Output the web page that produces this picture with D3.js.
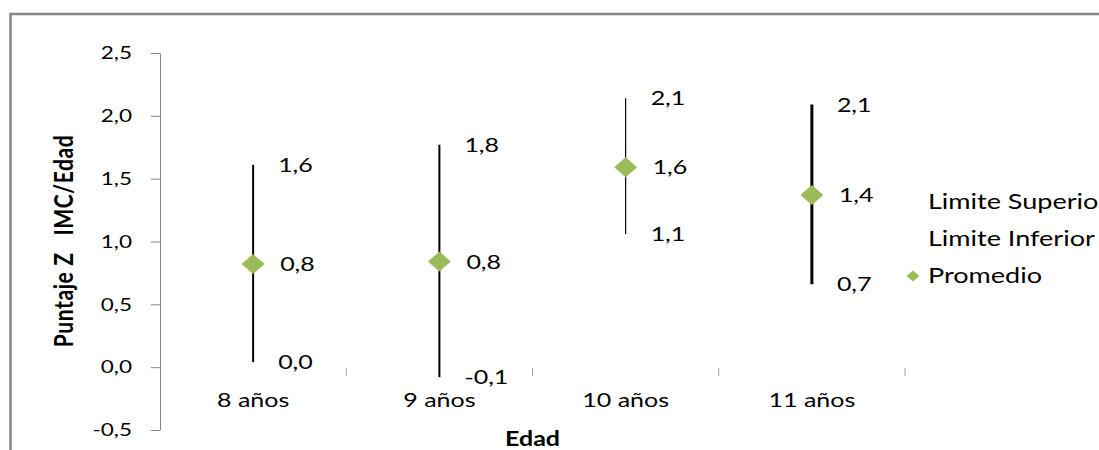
<!DOCTYPE html>
<html>
<head>
<meta charset="utf-8">
<script src="https://cdn.jsdelivr.net/npm/d3@7"></script>
<style>
  body { margin: 0; background: #fff; }
  text { font-family: Lato, "Open Sans", sans-serif; fill: #000; }
</style>
</head>
<body>
<svg class="chart"></svg>
<script>
const categories = ['8 años', '9 años', '10 años', '11 años'];
const upper = [1.61, 1.77, 2.14, 2.09];
const mean = [0.82, 0.84, 1.59, 1.37];
const lower = [0.04, -0.08, 1.06, 0.66];
const yTicks = [-0.5, 0, 0.5, 1, 1.5, 2, 2.5];
const legendLabels = ['Limite Superior', 'Limite Inferior', 'Promedio'];
const barWidths = [2, 2, 1.2, 3];

const width = 1099;
const height = 450;
const SX = 1.25; // the picture is stretched sideways
const green = '#9bbb59';
const gray = '#868686';

const svg = d3.select('.chart').attr('width', width).attr('height', height);

// outer frame (right and bottom edges fall off the picture)
svg.append('rect')
    .attr('x', 10.5).attr('y', 14)
    .attr('width', 1200).attr('height', 600)
    .attr('fill', 'none').attr('stroke', gray).attr('stroke-width', 2.5);

const loc = d3.formatLocale({decimal: ',', thousands: '.', grouping: [3], currency: ['', ''], minus: '-'});
const fmt = loc.format('.1f');

const x = d3.scaleBand().domain(categories).range([160, 905]).padding(0);
const y = d3.scaleLinear().domain([-0.5, 2.5]).range([430, 53]);
const cx = i => x(categories[i]) + x.bandwidth() / 2;

// y axis
const yAxis = svg.append('g')
    .attr('transform', 'translate(160,0)')
    .call(d3.axisLeft(y).tickValues(yTicks).tickFormat(fmt).tickSize(9).tickSizeOuter(0));
yAxis.select('.domain').attr('stroke', gray);
yAxis.selectAll('.tick line').attr('stroke', gray);
yAxis.selectAll('.tick text')
    .attr('x', 0)
    .attr('transform', `translate(-28,0) scale(${SX},1)`)
    .style('font-size', '18px')
    .style('font-family', 'Lato, sans-serif')
    .attr('fill', '#111');

// x axis: only tick marks at category boundaries, no line
const bounds = categories.slice(1).map(c => x(c)).concat([x.range()[1]]);
svg.append('g').selectAll('line')
    .data(bounds)
    .join('line')
    .attr('x1', d => d).attr('x2', d => d)
    .attr('y1', y(0) + 1).attr('y2', y(0) + 9)
    .attr('stroke', '#a0a0a0').attr('stroke-width', 1);

svg.append('g').selectAll('text')
    .data(categories)
    .join('text')
    .attr('transform', (d, i) => `translate(${cx(i)},${y(0) + 40}) scale(${SX},1)`)
    .attr('text-anchor', 'middle')
    .style('font-size', '20px')
    .text(d => d);

// axis titles
svg.append('text')
    .attr('transform', `translate(${(x.range()[0] + x.range()[1]) / 2},446) scale(${SX},1)`)
    .attr('text-anchor', 'middle')
    .style('font-size', '20px').style('font-weight', 'bold')
    .text('Edad');

svg.append('text')
    .attr('transform', `translate(64,241) scale(${SX},1) rotate(-90)`)
    .attr('text-anchor', 'middle')
    .attr('dy', '0.35em')
    .style('font-size', '21px').style('font-weight', 'bold')
    .style('letter-spacing', '0.6px')
    .style('white-space', 'pre')
    .text('Puntaje Z   IMC/Edad');

// error bars
const bars = svg.append('g');
bars.selectAll('line')
    .data(categories)
    .join('line')
    .attr('x1', (d, i) => cx(i)).attr('x2', (d, i) => cx(i))
    .attr('y1', (d, i) => y(upper[i])).attr('y2', (d, i) => y(lower[i]))
    .attr('stroke', '#000')
    .attr('stroke-width', (d, i) => barWidths[i]);

// mean diamonds
const diamond = d3.symbol().type(d3.symbolSquare);
bars.selectAll('path')
    .data(categories)
    .join('path')
    .attr('d', diamond.size(200)())
    .attr('transform', (d, i) => `translate(${cx(i)},${y(mean[i])}) scale(1.15,1) rotate(45)`)
    .attr('fill', green);

// data labels
const labelRows = [
    {vals: upper, dx: 25},
    {vals: mean, dx: 27},
    {vals: lower, dx: 25}
];
labelRows.forEach(row => {
    svg.append('g').selectAll('text')
        .data(categories)
        .join('text')
        .attr('transform', (d, i) => `translate(${cx(i) + row.dx},${y(row.vals[i])}) scale(${SX},1)`)
        .attr('dy', '0.35em')
        .style('font-size', '20px')
        .text((d, i) => fmt(row.vals[i]));
});

// legend
const legend = svg.append('g').attr('transform', 'translate(928,202)');
legend.selectAll('text')
    .data(legendLabels)
    .join('text')
    .attr('transform', (d, i) => `translate(0,${i * 37}) scale(${SX * 1.03},1)`)
    .attr('dy', '0.35em')
    .style('font-size', '21px')
    .text(d => d);
legend.append('path')
    .attr('d', diamond.size(62)())
    .attr('transform', `translate(-15,${2 * 37}) scale(1.15,1) rotate(45)`)
    .attr('fill', green);
</script>
</body>
</html>
